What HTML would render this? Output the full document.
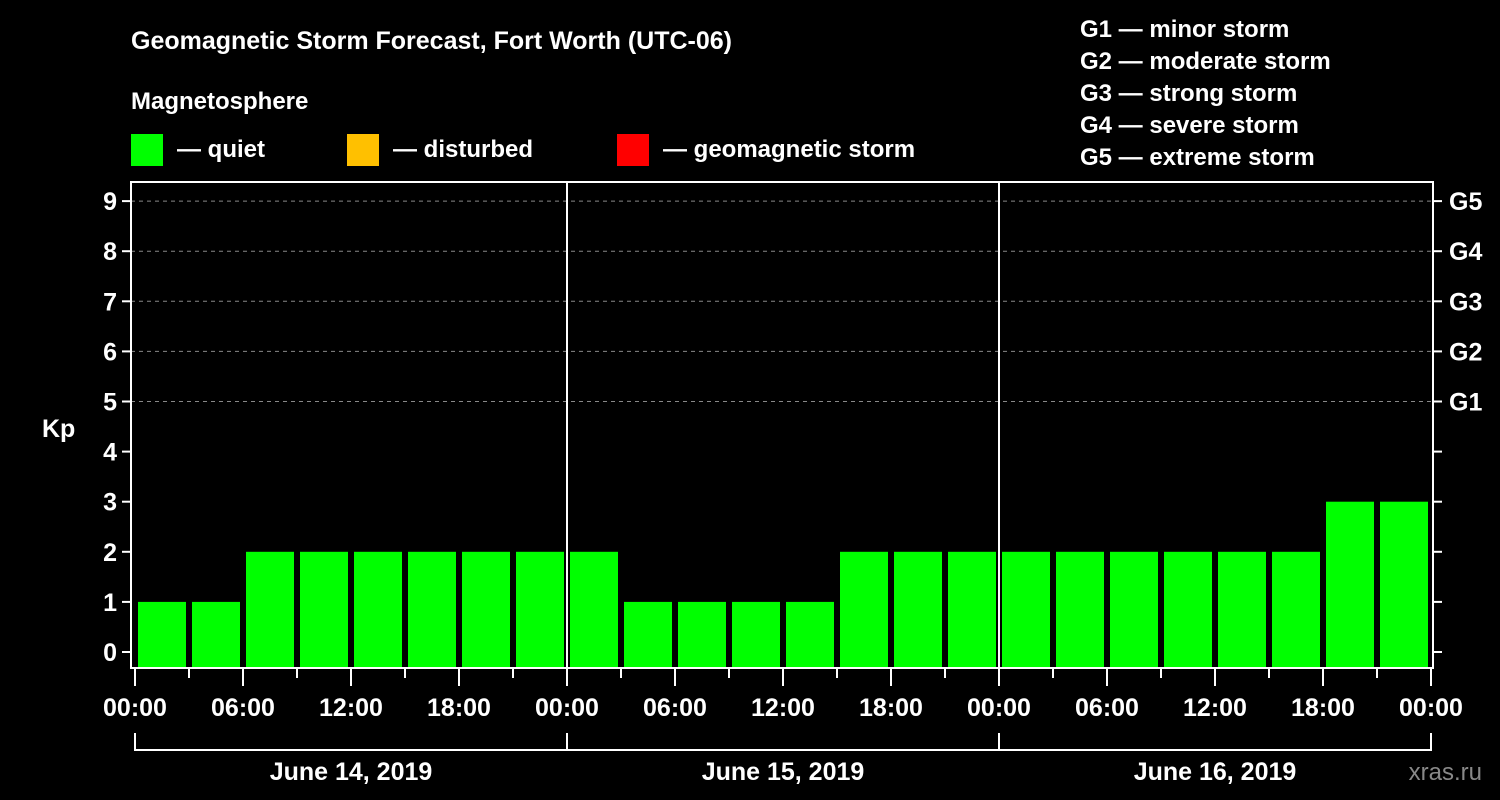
<!DOCTYPE html>
<html><head><meta charset="utf-8"><style>
body{margin:0;background:#000;width:1500px;height:800px;overflow:hidden}
svg{display:block;font-family:"Liberation Sans",sans-serif;font-weight:bold}
</style></head><body>
<svg id="c" width="1500" height="800">
<text x="131" y="49" fill="#fff" font-size="25">Geomagnetic Storm Forecast, Fort Worth (UTC-06)</text>
<text x="131" y="109" fill="#fff" font-size="24">Magnetosphere</text>
<rect x="131" y="134" width="32" height="32" fill="#00ff00"/>
<text x="177" y="157" fill="#fff" font-size="24">— quiet</text>
<rect x="347" y="134" width="32" height="32" fill="#ffc000"/>
<text x="393" y="157" fill="#fff" font-size="24">— disturbed</text>
<rect x="617" y="134" width="32" height="32" fill="#ff0000"/>
<text x="663" y="157" fill="#fff" font-size="24">— geomagnetic storm</text>
<g fill="#fff" font-size="24">
<text x="1080" y="37">G1 — minor storm</text>
<text x="1080" y="69">G2 — moderate storm</text>
<text x="1080" y="101">G3 — strong storm</text>
<text x="1080" y="133">G4 — severe storm</text>
<text x="1080" y="165">G5 — extreme storm</text>
</g>
<text x="42" y="437" fill="#fff" font-size="25">Kp</text>
<text x="1482" y="780" fill="#888" font-size="24" text-anchor="end" font-weight="normal">xras.ru</text>
<g id="plot"></g>
</svg>
<script>
const kpValues=[1,1,2,2,2,2,2,2, 2,1,1,1,1,2,2,2, 2,2,2,2,2,2,3,3];
const dayLabels=["June 14, 2019","June 15, 2019","June 16, 2019"];
const hourLabels=["00:00","06:00","12:00","18:00"];
const gLabels=["G1","G2","G3","G4","G5"];
const NS="http://www.w3.org/2000/svg";
const g=document.getElementById('plot');
const X0=135, DAY=432, L=131, R=1433, T=182, B=668;
const xs=h=>X0+h*DAY/24;
const ys=v=>652-v*50.1;
function mk(t,a){const e=document.createElementNS(NS,t);for(const k in a)e.setAttribute(k,a[k]);g.appendChild(e);return e;}
// gridlines
for(let v=5;v<=9;v++){
 const e=mk('line',{x1:L,x2:R,y1:ys(v),y2:ys(v),stroke:'#888','stroke-dasharray':'4,4','stroke-width':1});
 
 
}
// bars
kpValues.forEach((v,i)=>{
 const x=xs(i*3)+3, w=xs(3)-xs(0)-6;
 const e=mk('rect',{x:x,y:ys(v),width:w,height:B-ys(v),fill:v>=5?'#ff0000':(v>=4?'#ffc000':'#00ff00')});
 
 
});
// day separators
for(let d=1;d<dayLabels.length;d++){
 const e=mk('line',{x1:xs(d*24),x2:xs(d*24),y1:T,y2:B,stroke:'#fff','stroke-width':2});
 
 
}
// frame
const fr=mk('rect',{x:L,y:T,width:R-L,height:B-T,fill:'none',stroke:'#fff','stroke-width':2});


// y ticks & labels
for(let v=0;v<=9;v++){
 mk('line',{x1:L-9,x2:L,y1:ys(v),y2:ys(v),stroke:'#fff','stroke-width':2});
 mk('line',{x1:R,x2:R+9,y1:ys(v),y2:ys(v),stroke:'#fff','stroke-width':2});
 const t=mk('text',{x:L-14,y:ys(v)+9,fill:'#fff','font-size':25,'text-anchor':'end'});
 t.textContent=v;
 
 
}
gLabels.forEach((s,i)=>{
 const t=mk('text',{x:R+16,y:ys(5+i)+9,fill:'#fff','font-size':25});
 t.textContent=s;
 
 
});
// x ticks
const nDays=dayLabels.length;
for(let h=0;h<=nDays*24;h+=3){
 const major=h%6===0;
 mk('line',{x1:xs(h),x2:xs(h),y1:B,y2:major?686:678,stroke:'#fff','stroke-width':2});
 if(major&&(h%24!==0||true)){
  const t=mk('text',{x:xs(h),y:716,fill:'#fff','font-size':25,'text-anchor':'middle'});
  t.textContent=hourLabels[(h%24)/6];
  
  
 }
}
// day brackets
dayLabels.forEach((s,d)=>{
 const a=xs(d*24), b=xs((d+1)*24);
 mk('path',{d:`M${a},733V750H${b}V733`,fill:'none',stroke:'#fff','stroke-width':2});
 const t=mk('text',{x:(a+b)/2,y:780,fill:'#fff','font-size':25,'text-anchor':'middle'});
 t.textContent=s;
 
 
});
</script>
</body></html>
